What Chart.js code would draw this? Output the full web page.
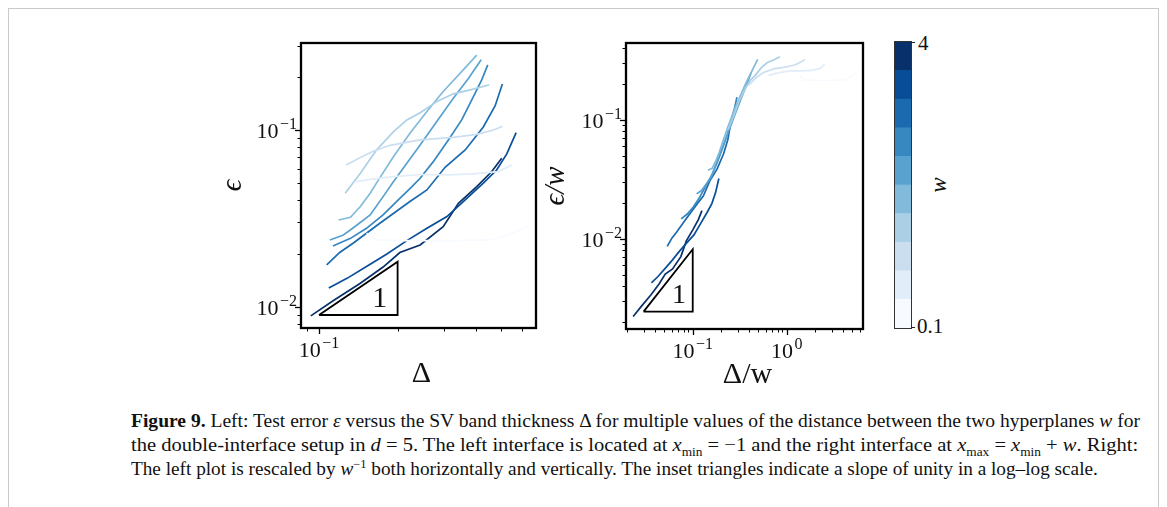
<!DOCTYPE html>
<html><head><meta charset="utf-8">
<script src="https://cdn.jsdelivr.net/npm/chart.js@4.4.1/dist/chart.umd.min.js"></script>
<style>
html,body{margin:0;padding:0;background:#fff;}
body{width:1167px;height:507px;overflow:hidden;position:relative;font-family:"Liberation Serif",serif;color:#111;}
.pageframe{position:absolute;left:8px;top:8px;width:1149px;height:540px;border:1px solid #c9c9c9;}
canvas{position:absolute;}
.cap{position:absolute;left:131px;white-space:nowrap;font-size:18.5px;line-height:20px;transform-origin:0 50%;}
.cap i{font-style:italic;}
.cap sub,.cap sup{font-size:12px;line-height:0;}
.cbl{position:absolute;font-size:21px;line-height:21px;}
#cbwrap{position:absolute;left:895px;top:42px;width:16px;height:286px;outline:1px solid #333;}
.cbtick{position:absolute;left:911px;width:4px;height:1px;background:#222;}
#cbtitle{position:absolute;left:931px;top:172px;font-size:23px;font-style:italic;transform:rotate(-90deg);transform-origin:50% 50%;}
</style></head>
<body>
<div class="pageframe"></div>
<canvas id="left" width="540" height="400" style="left:0;top:0;width:540px;height:400px"></canvas>
<canvas id="right" width="350" height="400" style="left:540px;top:0;width:350px;height:400px"></canvas>
<div id="cbwrap"><canvas id="cbar" width="16" height="286" style="left:0;top:0;width:16px;height:286px"></canvas></div>
<div class="cbtick" style="top:42px"></div>
<div class="cbtick" style="top:327px"></div>
<div class="cbl" id="cbTop" style="left:918px;top:33px"></div>
<div class="cbl" id="cbBot" style="left:917px;top:316px"></div>
<div id="cbtitle">w</div>

<div class="cap" id="cap1" data-w="1009" style="top:411px"><b>Figure 9.</b> Left: Test error <i>ε</i> versus the SV band thickness Δ for multiple values of the distance between the two hyperplanes <i>w</i> for</div>
<div class="cap" id="cap2" data-w="1007" style="top:435px">the double-interface setup in <i>d</i> = 5. The left interface is located at <i>x</i><sub>min</sub> = −1 and the right interface at <i>x</i><sub>max</sub> = <i>x</i><sub>min</sub> + <i>w</i>. Right:</div>
<div class="cap" id="cap3" data-w="967" style="top:459px">The left plot is rescaled by <i>w</i><sup>−1</sup> both horizontally and vertically. The inset triangles indicate a slope of unity in a log–log scale.</div>

<script>
// ---- data ----
const wValues = [0.11, 0.216, 0.325, 0.53, 0.82, 1.0, 1.5, 2.0, 3.0, 4.0];
const lineColors = ['#f7fbff','#e1edf8','#cadef0','#abd0e6','#82badb','#59a2cf','#3787c0','#1b6aaf','#084d97','#08306b'];

const delta0 = [0.152, 0.166, 0.217, 0.327, 0.452, 0.508, 0.634];
const eps0   = [0.0261, 0.0239, 0.0237, 0.0237, 0.0239, 0.0250, 0.0284];
const delta1 = [0.139, 0.157, 0.193, 0.244, 0.313, 0.390, 0.486, 0.547];
const eps1   = [0.0511, 0.0526, 0.0545, 0.0560, 0.0557, 0.0564, 0.0582, 0.0634];
const delta2 = [0.127, 0.144, 0.162, 0.187, 0.244, 0.327, 0.402, 0.466, 0.505];
const eps2   = [0.0634, 0.0698, 0.0761, 0.0819, 0.0878, 0.0909, 0.0945, 0.100, 0.105];
const delta3 = [0.126, 0.144, 0.166, 0.193, 0.217, 0.244, 0.283, 0.327, 0.390, 0.449];
const eps3   = [0.0439, 0.0569, 0.0771, 0.0978, 0.114, 0.125, 0.145, 0.160, 0.170, 0.180];
const delta4 = [0.119, 0.132, 0.144, 0.157, 0.169, 0.193, 0.223, 0.259, 0.299, 0.347, 0.402];
const eps4   = [0.0310, 0.0321, 0.0369, 0.0439, 0.0522, 0.0707, 0.0958, 0.127, 0.165, 0.209, 0.265];
const delta5 = [0.110, 0.124, 0.137, 0.157, 0.176, 0.193, 0.217, 0.244, 0.283, 0.327, 0.374, 0.418];
const eps5   = [0.0239, 0.0255, 0.0284, 0.0331, 0.0420, 0.0511, 0.0648, 0.0823, 0.112, 0.151, 0.196, 0.249];
const delta6 = [0.113, 0.132, 0.152, 0.176, 0.204, 0.227, 0.244, 0.274, 0.313, 0.352, 0.396, 0.420, 0.443];
const eps6   = [0.0221, 0.0244, 0.0278, 0.0331, 0.0411, 0.0478, 0.0533, 0.0662, 0.0878, 0.114, 0.161, 0.192, 0.233];
const delta7 = [0.107, 0.120, 0.135, 0.171, 0.223, 0.259, 0.304, 0.363, 0.426, 0.473, 0.504];
const eps7   = [0.0173, 0.0203, 0.0229, 0.0297, 0.0394, 0.0458, 0.0615, 0.0771, 0.104, 0.137, 0.182];
const delta8 = [0.109, 0.128, 0.152, 0.182, 0.217, 0.259, 0.309, 0.357, 0.426, 0.479, 0.524, 0.569];
const eps8   = [0.0128, 0.0145, 0.0169, 0.0199, 0.0237, 0.0278, 0.0324, 0.0394, 0.0500, 0.0594, 0.0732, 0.0966];
const delta9 = [0.093, 0.114, 0.144, 0.176, 0.204, 0.244, 0.299, 0.342, 0.402, 0.459, 0.501];
const eps9   = [0.0089, 0.0109, 0.0136, 0.0168, 0.0203, 0.0224, 0.0284, 0.0385, 0.0479, 0.0582, 0.0691];

// slope-1 triangles
const triLeftX  = [0.1, 0.2, 0.2, 0.1];
const triLeftY  = [0.009, 0.009, 0.018, 0.009];
const triRightX = [0.03, 0.1, 0.1, 0.03];
const triRightY = [0.00245, 0.00245, 0.00818, 0.00245];
const triLeftLabel  = [0.171, 0.0110];
const triRightLabel = [0.0714, 0.00332];

// axis ranges and labelled ticks
const leftXRange  = [0.0853, 0.678];
const leftYRange  = [0.0076, 0.31];
const rightXRange = [0.0195, 6.48];
const rightYRange = [0.00175, 0.443];
const leftXLabelled  = [-1];
const leftYLabelled  = [-2, -1];
const rightXLabelled = [-1, 0];
const rightYLabelled = [-2, -1];
const colorbarLabels = ['0.1', '4'];

const deltas = [delta0,delta1,delta2,delta3,delta4,delta5,delta6,delta7,delta8,delta9];
const epss   = [eps0,eps1,eps2,eps3,eps4,eps5,eps6,eps7,eps8,eps9];

// ---- helpers ----
const SERIF = '"Liberation Serif", "DejaVu Serif", serif';
function expStr(e){ return (e<0?'\u2212':'') + Math.abs(e); }
function drawPow(ctx, e, x, yBase, align){
  const big = '22px ' + SERIF, small = '16px ' + SERIF;
  ctx.font = big; const w1 = ctx.measureText('10').width;
  const s = expStr(e);
  ctx.font = small; const w2 = ctx.measureText(s).width;
  const tot = w1 + 1.5 + w2;
  const x0 = align === 'center' ? x - tot/2 : x - tot;
  ctx.textAlign = 'left'; ctx.textBaseline = 'alphabetic'; ctx.fillStyle = '#111';
  ctx.font = big; ctx.fillText('10', x0, yBase);
  ctx.font = small; ctx.fillText(s, x0 + w1 + 1.5, yBase - 9);
}
function logTicks(min, max){
  const out = [];
  for (let e = Math.floor(Math.log10(min)); e <= Math.ceil(Math.log10(max)); e++)
    for (let m = 1; m < 10; m++){ const v = m*Math.pow(10,e); if (v >= min*0.9999 && v <= max*1.0001) out.push({v, major: m===1}); }
  return out;
}

const axesPlugin = {
  id: 'axesDeco',
  afterDraw(chart, args, o){
    const {ctx, chartArea: a, scales} = chart;
    const x = scales.x, y = scales.y;
    ctx.save();
    ctx.strokeStyle = '#000';
    for (const t of logTicks(x.min, x.max)){
      const px = Math.round(x.getPixelForValue(t.v)) + 0.5;
      ctx.lineWidth = t.major ? 1.3 : 1;
      ctx.beginPath(); ctx.moveTo(px, a.bottom); ctx.lineTo(px, a.bottom + (t.major ? 6 : 3.5)); ctx.stroke();
    }
    for (const t of logTicks(y.min, y.max)){
      const py = Math.round(y.getPixelForValue(t.v)) + 0.5;
      ctx.lineWidth = t.major ? 1.3 : 1;
      ctx.beginPath(); ctx.moveTo(a.left, py); ctx.lineTo(a.left - (t.major ? 6 : 3.5), py); ctx.stroke();
    }
    ctx.lineWidth = 2.3;
    ctx.strokeRect(a.left, a.top, a.right - a.left, a.bottom - a.top);
    for (const e of o.xLab) drawPow(ctx, e, x.getPixelForValue(Math.pow(10,e)), a.bottom + 29, 'center');
    for (const e of o.yLab) drawPow(ctx, e, a.left - 4, y.getPixelForValue(Math.pow(10,e)) + 8, 'right');
    ctx.fillStyle = '#111'; ctx.textAlign = 'center'; ctx.textBaseline = 'middle';
    ctx.font = '30px ' + SERIF;
    ctx.fillText(o.xTitle, (a.left + a.right)/2 + o.xTitleDx, a.bottom + 46);
    ctx.save();
    ctx.translate(a.left - o.yTitleOff, (a.top + a.bottom)/2);
    ctx.rotate(-Math.PI/2);
    ctx.font = 'italic 29px ' + SERIF;
    ctx.fillText(o.yTitle, 0, 0);
    ctx.restore();
    ctx.font = o.triFont + 'px ' + SERIF;
    ctx.fillText('1', x.getPixelForValue(o.triLabel[0]), y.getPixelForValue(o.triLabel[1]));
    ctx.restore();
  }
};

function makeDatasets(scaled){
  const ds = deltas.map((d, i) => ({
    data: d.map((v, k) => scaled ? {x: v / wValues[i], y: epss[i][k] / wValues[i]} : {x: v, y: epss[i][k]}),
    borderColor: lineColors[i], borderWidth: 1.7, pointRadius: 0, tension: 0, fill: false
  }));
  const tx = scaled ? triRightX : triLeftX, ty = scaled ? triRightY : triLeftY;
  ds.push({ data: tx.map((v,k)=>({x:v, y:ty[k]})), borderColor: '#000', borderWidth: 1.8, pointRadius: 0, tension: 0, fill: false });
  return ds;
}

function makeChart(id, scaled, pad, xr, yr, deco){
  return new Chart(document.getElementById(id), {
    type: 'line',
    data: { datasets: makeDatasets(scaled) },
    options: {
      responsive: false, animation: false, devicePixelRatio: 1,
      layout: { padding: pad },
      plugins: { legend: {display:false}, tooltip: {enabled:false}, axesDeco: deco },
      scales: {
        x: { type: 'logarithmic', min: xr[0], max: xr[1], display: false },
        y: { type: 'logarithmic', min: yr[0], max: yr[1], display: false }
      }
    },
    plugins: [axesPlugin]
  });
}

makeChart('left', false, {left:301, top:43, right:4, bottom:72}, leftXRange, leftYRange,
  {xLab: leftXLabelled, yLab: leftYLabelled, xTitle: '\u0394', xTitleDx: 3, yTitle: '\u03F5', yTitleOff: 68, triLabel: triLeftLabel, triFont: 30});
makeChart('right', true, {left:86, top:43, right:27, bottom:71}, rightXRange, rightYRange,
  {xLab: rightXLabelled, yLab: rightYLabelled, xTitle: '\u0394/w', xTitleDx: 3, yTitle: '\u03F5/w', yTitleOff: 70, triLabel: triRightLabel, triFont: 28});

new Chart(document.getElementById('cbar'), {
  type: 'bar',
  data: { labels: ['w'], datasets: lineColors.map(c => ({ data: [1], backgroundColor: c, borderWidth: 0, barPercentage: 1, categoryPercentage: 1 })) },
  options: {
    responsive: false, animation: false, devicePixelRatio: 1,
    plugins: { legend: {display:false}, tooltip: {enabled:false} },
    scales: { x: {stacked: true, display: false}, y: {stacked: true, display: false, min: 0, max: lineColors.length} }
  }
});
document.getElementById('cbBot').textContent = colorbarLabels[0];
document.getElementById('cbTop').textContent = colorbarLabels[1];

for (const el of document.querySelectorAll('.cap')){
  const target = +el.dataset.w;
  const w = el.scrollWidth;
  el.style.transform = 'scaleX(' + (target / w) + ')';
}
</script>
</body></html>
